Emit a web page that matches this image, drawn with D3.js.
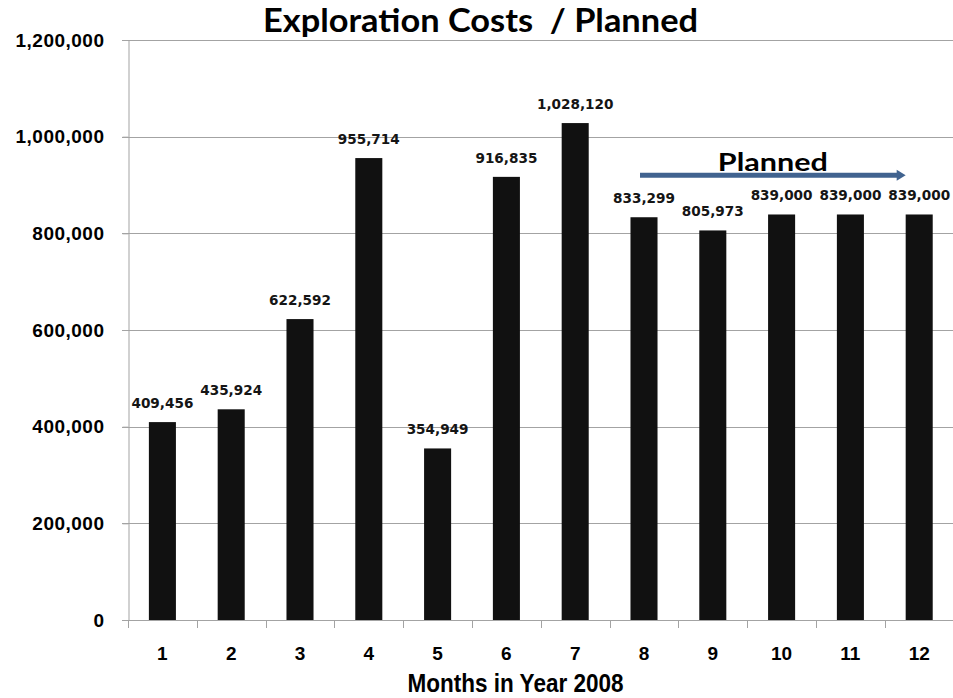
<!DOCTYPE html>
<html>
<head>
<meta charset="utf-8">
<script src="https://cdn.jsdelivr.net/npm/d3@7"></script>
<style>
  body { margin: 0; background: #fff; }
  svg { display: block; }
</style>
</head>
<body>
<svg id="chart" width="953" height="698"></svg>
<script>
// Monthly exploration costs for 2008 (months 8-12 are planned figures)
const months = ["1", "2", "3", "4", "5", "6", "7", "8", "9", "10", "11", "12"];
const costs = [409456, 435924, 622592, 955714, 354949, 916835, 1028120, 833299, 805973, 839000, 839000, 839000];
const yTicks = [0, 200000, 400000, 600000, 800000, 1000000, 1200000];
const chartTitle = "Exploration Costs  / Planned";
const xTitle = "Months in Year 2008";
const plannedLabel = "Planned";
const plannedFrom = "8";
const plannedTo = "12";
const plannedLevel = 920000;

const W = 953, H = 698;
const plotLeft = 128, plotRight = 953.6, plotTop = 40, plotBottom = 620;
const svg = d3.select("#chart");

const x = d3.scaleBand()
  .domain(months)
  .range([plotLeft, plotRight])
  .paddingInner(0.607)
  .paddingOuter(0.3035);

const y = d3.scaleLinear()
  .domain([0, 1200000])
  .range([plotBottom, plotTop]);

const gridColor = "#a3a3a3";

// Horizontal gridlines (starting at the tick stub left of the axis)
svg.append("g")
  .selectAll("line")
  .data(yTicks)
  .join("line")
  .attr("x1", plotLeft - 6)
  .attr("x2", W)
  .attr("y1", d => Math.round(y(d)) + 0.5)
  .attr("y2", d => Math.round(y(d)) + 0.5)
  .attr("stroke", gridColor)
  .attr("stroke-width", 1);

// Y axis
const yAxis = svg.append("g")
  .attr("transform", `translate(${plotLeft + 0.5},0)`)
  .call(d3.axisLeft(y)
    .tickValues(yTicks)
    .tickFormat(d3.format(","))
    .tickSize(6)
    .tickSizeOuter(0)
    .tickPadding(18));
yAxis.select(".domain").attr("stroke", gridColor);
yAxis.selectAll(".tick line").attr("stroke", gridColor);
yAxis.selectAll(".tick text")
  .attr("fill", "#000")
  .style("font-family", "'Liberation Sans', Arial, sans-serif")
  .style("font-weight", "bold")
  .style("font-size", "19px")
  .style("letter-spacing", "0.5px");

// X axis labels at band centres
const xAxis = svg.append("g")
  .attr("transform", `translate(0,${plotBottom})`)
  .call(d3.axisBottom(x).tickSize(0).tickPadding(27));
xAxis.select(".domain").remove();
xAxis.selectAll(".tick text")
  .attr("fill", "#000")
  .style("font-family", "'Liberation Sans', Arial, sans-serif")
  .style("font-weight", "bold")
  .style("font-size", "19px");

// Category boundary tick marks below the axis
const step = x.step();
const boundaries = months.map(m => x(m) - step * x.paddingInner() / 2);
boundaries.push(x(months[months.length - 1]) + x.bandwidth() + step * x.paddingInner() / 2);
svg.append("g")
  .selectAll("line")
  .data(boundaries)
  .join("line")
  .attr("x1", d => Math.round(d) + 0.5)
  .attr("x2", d => Math.round(d) + 0.5)
  .attr("y1", plotBottom)
  .attr("y2", plotBottom + 8)
  .attr("stroke", gridColor);

// Bars
svg.append("g")
  .selectAll("rect")
  .data(costs)
  .join("rect")
  .attr("x", (d, i) => x(months[i]))
  .attr("y", d => y(d))
  .attr("width", x.bandwidth())
  .attr("height", d => plotBottom - y(d))
  .attr("fill", "#111111");

// Value labels
svg.append("g")
  .selectAll("text")
  .data(costs)
  .join("text")
  .attr("x", (d, i) => x(months[i]) + x.bandwidth() / 2)
  .attr("y", d => y(d) - 14)
  .attr("text-anchor", "middle")
  .attr("fill", "#151515")
  .style("font-family", "'DejaVu Sans', Verdana, sans-serif")
  .style("font-weight", "bold")
  .style("font-size", "13.6px")
  .text(d => d3.format(",")(d));

// Title
svg.append("text")
  .attr("x", 480.5)
  .attr("y", 32)
  .attr("text-anchor", "middle")
  .attr("textLength", 435)
  .attr("lengthAdjust", "spacingAndGlyphs")
  .attr("fill", "#000")
  .style("white-space", "pre")
  .style("font-family", "Lato, 'Open Sans', sans-serif")
  .style("font-weight", "bold")
  .style("font-size", "33px")
  .text(chartTitle);

// X axis title
svg.append("text")
  .attr("x", 515.5)
  .attr("y", 692)
  .attr("text-anchor", "middle")
  .attr("textLength", 216)
  .attr("lengthAdjust", "spacingAndGlyphs")
  .attr("fill", "#000")
  .style("font-family", "'Liberation Sans', Arial, sans-serif")
  .style("font-weight", "bold")
  .style("font-size", "25px")
  .text(xTitle);

// "Planned" arrow spanning the forecast months
const arrowColor = "#41638f";
const ax0 = x(plannedFrom) + x.bandwidth() / 2 - 4;
const ax1 = x(plannedTo);
const ay = y(plannedLevel);
const head = 9;
svg.append("line")
  .attr("x1", ax0)
  .attr("x2", ax1 - head + 1)
  .attr("y1", ay)
  .attr("y2", ay)
  .attr("stroke", arrowColor)
  .attr("stroke-width", 5);
svg.append("path")
  .attr("d", `M${ax1},${ay} L${ax1 - head},${ay - 5.5} L${ax1 - head},${ay + 5.5} Z`)
  .attr("fill", arrowColor);

svg.append("text")
  .attr("x", (ax0 + ax1) / 2)
  .attr("y", ay - 4.5)
  .attr("text-anchor", "middle")
  .attr("textLength", 110)
  .attr("lengthAdjust", "spacingAndGlyphs")
  .attr("fill", "#000")
  .style("font-family", "Lato, 'Open Sans', sans-serif")
  .style("font-weight", "bold")
  .style("font-size", "25px")
  .text(plannedLabel);
</script>
</body>
</html>
